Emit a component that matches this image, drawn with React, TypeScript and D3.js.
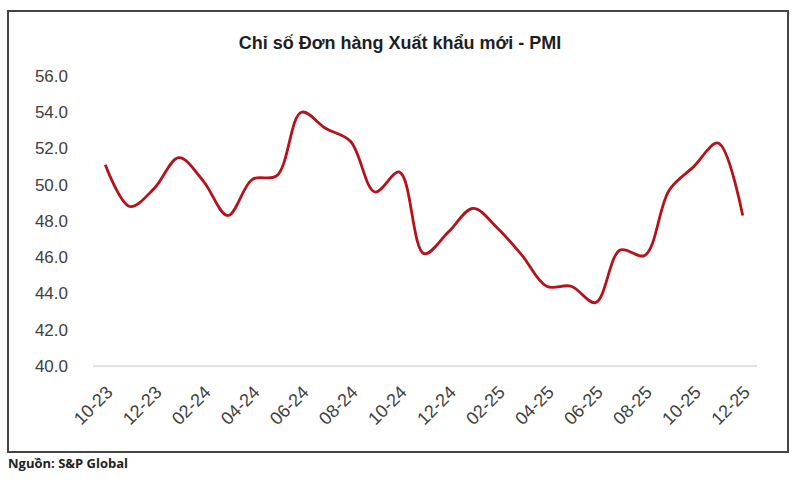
import { useEffect, useRef } from 'react'
import * as d3 from 'd3'

const months = [
  '10-23', '11-23', '12-23', '01-24', '02-24', '03-24', '04-24', '05-24', '06-24',
  '07-24', '08-24', '09-24', '10-24', '11-24', '12-24', '01-25', '02-25', '03-25',
  '04-25', '05-25', '06-25', '07-25', '08-25', '09-25', '10-25', '11-25', '12-25',
]
const pmiValues = [
  51.1, 48.8, 49.8, 51.5, 50.2, 48.3, 50.3, 50.5, 54.0,
  53.1, 52.4, 49.6, 50.7, 46.2, 47.4, 48.7, 47.6, 46.1,
  44.4, 44.4, 43.5, 46.4, 46.1, 49.7, 51.0, 52.3, 48.3,
]
const yTicks = [40, 42, 44, 46, 48, 50, 52, 54, 56]

const TITLE = 'Chỉ số Đơn hàng Xuất khẩu mới - PMI'
const SOURCE = 'Nguồn: S&P Global'
const W = 800
const H = 480
const PLOT = { l: 93, r: 755, t: 76, b: 366 }
const AXIS_FONT = '"Liberation Sans", Arial, sans-serif'

export default function App() {
  const svgRef = useRef<SVGSVGElement>(null)

  useEffect(() => {
    const svg = d3.select(svgRef.current)
    svg.selectAll('*').remove()

    svg.append('rect').attr('width', W).attr('height', H).attr('fill', '#fff')
    // outer frame
    svg.append('rect').attr('x', 8).attr('y', 11).attr('width', 780).attr('height', 441)
      .attr('fill', 'none').attr('stroke', '#444').attr('stroke-width', 2)

    svg.append('text').attr('x', 400).attr('y', 49).attr('text-anchor', 'middle')
      .attr('font-family', '"Liberation Sans", Arial, sans-serif').attr('font-weight', 'bold')
      .attr('font-size', '18px').attr('fill', '#1e1e1e').text(TITLE)

    const x = d3.scalePoint<string>().domain(months).range([PLOT.l, PLOT.r]).padding(0.5)
    const y = d3.scaleLinear().domain([40, 56]).range([PLOT.b, PLOT.t])

    // y labels
    svg.append('g').selectAll('text').data(yTicks).join('text')
      .attr('x', 68).attr('y', (d) => y(d)).attr('dy', '0.35em').attr('text-anchor', 'end')
      .attr('font-family', AXIS_FONT).attr('font-size', '17px').attr('fill', '#404040')
      .text((d) => d.toFixed(1))

    // baseline
    svg.append('line').attr('x1', PLOT.l).attr('x2', PLOT.r + 2).attr('y1', y(40)).attr('y2', y(40))
      .attr('stroke', '#d9d9d9').attr('stroke-width', 1.5)

    // x labels every 2 months
    svg.append('g').selectAll('text').data(months.filter((_, i) => i % 2 === 0)).join('text')
      .attr('transform', (d) => `translate(${(x(d) ?? 0) + 4},${y(40) + 23}) rotate(-45)`)
      .attr('text-anchor', 'end').attr('dy', '0.35em')
      .attr('font-family', AXIS_FONT).attr('font-size', '18px').attr('fill', '#404040')
      .text((d) => d)

    const line = d3.line<number>()
      .x((_, i) => x(months[i]) ?? 0)
      .y((d) => y(d))
      .curve(d3.curveCatmullRom.alpha(0.5))
    svg.append('path').datum(pmiValues).attr('d', line).attr('fill', 'none')
      .attr('stroke', '#b5121b').attr('stroke-width', 2.8).attr('stroke-linejoin', 'round')

    svg.append('text').attr('x', 8).attr('y', 468)
      .attr('font-family', '"Open Sans", "Noto Sans", sans-serif').attr('font-weight', 'bold')
      .attr('font-size', '13px').attr('fill', '#222').text(SOURCE)
  }, [])

  return <svg ref={svgRef} width={W} height={H} style={{ position: 'absolute', left: 0, top: 0 }} />
}
